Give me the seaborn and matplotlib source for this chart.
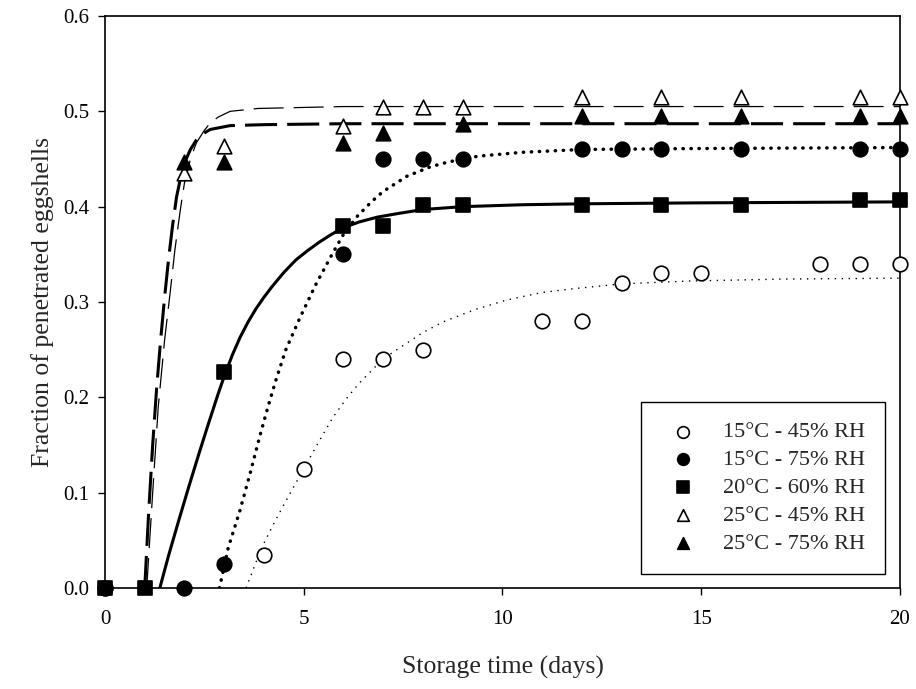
import matplotlib
matplotlib.use("Agg")
import matplotlib.pyplot as plt
import seaborn as sns
import pandas as pd

# measured points
days_a = [0, 4, 5, 6, 7, 8, 11, 12, 13, 14, 15, 18, 19, 20]
frac_a = [0.0, 0.035, 0.125, 0.24, 0.24, 0.25, 0.28, 0.28, 0.32, 0.33, 0.33, 0.34, 0.34, 0.34]

days_b = [0, 2, 3, 6, 7, 8, 9, 12, 13, 14, 16, 19, 20]
frac_b = [0.0, 0.0, 0.025, 0.35, 0.45, 0.45, 0.45, 0.46, 0.46, 0.46, 0.46, 0.46, 0.46]

days_c = [0, 1, 3, 6, 7, 8, 9, 12, 14, 16, 19, 20]
frac_c = [0.0, 0.0, 0.227, 0.38, 0.38, 0.402, 0.402, 0.402, 0.402, 0.402, 0.407, 0.407]

days_d = [2, 3, 6, 7, 8, 9, 12, 14, 16, 19, 20]
frac_d = [0.435, 0.464, 0.485, 0.505, 0.505, 0.505, 0.515, 0.515, 0.515, 0.515, 0.515]

days_e = [2, 3, 6, 7, 9, 12, 14, 16, 19, 20]
frac_e = [0.447, 0.447, 0.467, 0.477, 0.487, 0.495, 0.495, 0.495, 0.495, 0.495]

# fitted curves
fit_a_x = [3.55, 3.8, 4.0, 4.3, 4.6, 5.0, 5.4, 5.75, 6.1, 6.4, 6.8, 7.2, 7.6, 8.0, 8.5,
           9.3, 10.1, 11.0, 11.8, 13.0, 14.7, 17.0, 20.0]
fit_a_y = [0.0, 0.027, 0.047, 0.072, 0.095, 0.125, 0.155, 0.18, 0.2, 0.215, 0.232, 0.246, 0.257,
           0.268, 0.279, 0.292, 0.302, 0.31, 0.314, 0.319, 0.322, 0.324, 0.325]

fit_b_x = [2.88, 3.1, 3.4, 3.65, 3.9, 4.1, 4.3, 4.55, 4.9, 5.3, 5.7, 6.0, 6.35, 6.7, 7.0,
           7.6, 8.2, 8.65, 9.4, 10.5, 12.0, 15.0, 20.0]
fit_b_y = [0.0, 0.042, 0.082, 0.12, 0.16, 0.19, 0.218, 0.25, 0.283, 0.318, 0.349, 0.371, 0.39,
           0.405, 0.416, 0.432, 0.442, 0.447, 0.453, 0.457, 0.46, 0.461, 0.462]

fit_c_x = [1.38, 1.6, 1.85, 2.1, 2.35, 2.6, 2.85, 3.0, 3.2, 3.4, 3.6, 3.8, 4.0,
           4.2, 4.5, 4.8, 5.1, 5.4, 5.7, 6.0, 6.4, 6.85, 7.4, 8.0, 9.0, 10.5, 12.0, 15.0, 20.0]
fit_c_y = [0.0, 0.034, 0.07, 0.105, 0.139, 0.172, 0.204, 0.222, 0.244, 0.263,
           0.279, 0.293, 0.305, 0.316, 0.331, 0.344, 0.354, 0.363, 0.371, 0.378, 0.384, 0.389,
           0.393, 0.397, 0.4, 0.402, 0.403, 0.404, 0.405]

fit_d_x = [1.05, 1.2, 1.34, 1.5, 1.64, 1.76, 1.89, 2.0, 2.15, 2.3, 2.5, 2.65, 2.85, 3.15, 3.85, 6.0, 20.0]
fit_d_y = [0.0, 0.10, 0.19, 0.26, 0.31, 0.355, 0.395, 0.425, 0.45, 0.467, 0.48, 0.488, 0.494,
           0.5, 0.503, 0.505, 0.505]

fit_e_x = [1.0, 1.1, 1.2, 1.3, 1.4, 1.5, 1.6, 1.7, 1.8, 1.9, 2.0, 2.15, 2.3, 2.45, 2.65, 2.9, 3.15, 4.0, 6.0, 20.0]
fit_e_y = [0.0, 0.08, 0.15, 0.21, 0.26, 0.305, 0.345, 0.38, 0.41, 0.43, 0.446, 0.46, 0.47,
           0.476, 0.481, 0.483, 0.485, 0.486, 0.487, 0.487]

labels = ["15\u00b0C - 45% RH", "15\u00b0C - 75% RH", "20\u00b0C - 60% RH",
          "25\u00b0C - 45% RH", "25\u00b0C - 75% RH"]

sns.set_style("ticks")
plt.rcParams["font.family"] = ["Liberation Serif", "DejaVu Serif"]

fig = plt.figure(figsize=(9.16, 6.89), dpi=100)
ax = fig.add_axes([0.1146, 0.1466, 0.8679, 0.8302])

# curves
curve_styles = [
    (fit_a_x, fit_a_y, dict(linewidth=1.0, linestyle=(0, (1, 4)))),
    (fit_b_x, fit_b_y, dict(linewidth=2.5, linestyle=(0, (0.1, 2.2)), dash_capstyle="round")),
    (fit_c_x, fit_c_y, dict(linewidth=2.2, linestyle="-")),
    (fit_d_x, fit_d_y, dict(linewidth=0.9, linestyle=(0, (24, 8)))),
    (fit_e_x, fit_e_y, dict(linewidth=2.2, linestyle=(0, (10.5, 3.3)))),
]
for cx, cy, kw in curve_styles:
    sns.lineplot(x=cx, y=cy, color="black", ax=ax, estimator=None, sort=False, zorder=2, **kw)

# points
point_styles = [
    (days_a, frac_a, "o", "white"),
    (days_b, frac_b, "o", "black"),
    (days_c, frac_c, "s", "black"),
    (days_d, frac_d, "^", "white"),
    (days_e, frac_e, "^", "black"),
]
for (px, py, mk, fc), lab in zip(point_styles, labels):
    sns.scatterplot(x=px, y=py, marker=mk, s=110, facecolor=fc, edgecolor="black",
                    linewidth=1.2, ax=ax, zorder=3, clip_on=False, label=lab)

ax.set_xlim(0, 20)
ax.set_ylim(0, 0.6)
ax.set_xticks([0, 5, 10, 15, 20])
ax.set_yticks([0.0, 0.1, 0.2, 0.3, 0.4, 0.5, 0.6])
ax.set_yticklabels(["0.0", "0.1", "0.2", "0.3", "0.4", "0.5", "0.6"])
ax.tick_params(axis="x", direction="out", length=5, width=1, labelsize=15, pad=11, colors="black")
ax.tick_params(axis="y", direction="out", length=5, width=1, labelsize=15, pad=6, colors="black")
for sp in ax.spines.values():
    sp.set_visible(True)
    sp.set_linewidth(1.2)
    sp.set_color("black")

ax.set_xlabel("Storage time (days)", fontsize=18.5, labelpad=19)
ax.set_ylabel("Fraction of penetrated eggshells", fontsize=18.5, labelpad=7)

leg = ax.legend(loc="lower right", bbox_to_anchor=(0.981, 0.0245), borderaxespad=0,
                fontsize=16, frameon=True, fancybox=False, edgecolor="black",
                framealpha=1, labelspacing=0.33, borderpad=0.9, handlelength=2.0,
                handletextpad=0.8, markerscale=0.8)
leg.get_frame().set_linewidth(1.0)

fig.savefig("out.png", dpi=100)
